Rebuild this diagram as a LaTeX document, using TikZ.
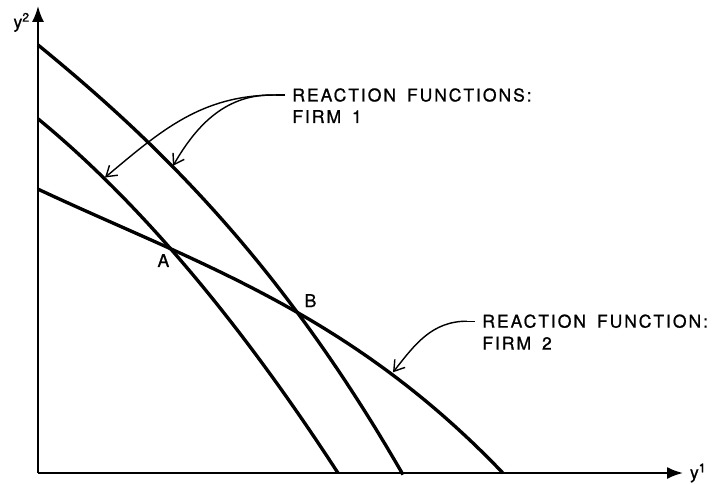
\documentclass[tikz,border=0pt]{standalone}
\usepackage{fontspec}
\newfontfamily\lblfont{TeX Gyre Heros}[LetterSpace=11,WordSpace=1.6,FakeBold=1]
\usetikzlibrary{arrows.meta,positioning,intersections}

\begin{document}
\begin{tikzpicture}[y=1.012cm,
    rcurve/.style={line width=1.9pt},
    axis/.style={line width=1.1pt,-{Latex[length=3.2mm,width=2.4mm]}},
    callout/.style={line width=0.8pt,-{Straight Barb[length=2mm,width=2.6mm]}},
    lbl/.style={font=\lblfont\fontsize{10}{12}\selectfont,inner sep=0pt,anchor=west}]
  \useasboundingbox (-0.76,-0.198) rectangle (13.56,9.348);
  %% Axes
  \draw[axis](0,0)--(12.9,0)
       node[lbl,right=0.12] (yOne) {y\textsuperscript{1}};
  \draw[axis](0,0)--(0,9.23)
       node[lbl,anchor=north east,xshift=-0.14cm,yshift=-0.12cm] (yTwo) {y\textsuperscript{2}};
  %% Reaction functions of firm 1 (inner, outer) and firm 2
  \draw[rcurve,name path=inner,domain=0:6.0,samples=120]
       plot(\x,{7.0-0.8115*\x-0.0592*\x*\x});
  \draw[rcurve,name path=outer,domain=0:7.3,samples=120]
       plot(\x,{8.46-0.8087*\x-0.02121*\x*\x-0.003755*\x*\x*\x});
  \draw[rcurve,name path=firmtwo,domain=0:9.3,samples=120]
       plot(\x,{5.61-0.46404*\x+0.016352*\x*\x-0.0033675*\x*\x*\x});
  %% Equilibria
  \path[name intersections={of=inner and firmtwo,by=ptA}];
  \path[name intersections={of=outer and firmtwo,by=ptB}];
  \node[lbl,anchor=north east] (labA) at ([xshift=-0.02cm,yshift=-0.1cm]ptA) {A};
  \node[lbl,anchor=south west] (labB) at ([xshift=0.14cm,yshift=0.1cm]ptB) {B};
  %% Firm 1 label with two arrows
  \node[lbl] (rfOne) at (5.08,7.47) {REACTION FUNCTIONS:};
  \node[lbl,below=0.43cm of rfOne.west,anchor=west] (firmOne) {FIRM 1};
  \coordinate (stubOne) at ([xshift=-0.14cm]rfOne.west);
  \coordinate (forkOne) at ([xshift=-0.32cm]rfOne.west);
  \coordinate (tipInner) at (1.34,5.84);
  \coordinate (tipOuter) at (2.7,6.07);
  \draw[line width=0.8pt] (stubOne)--(forkOne);
  \draw[callout] (forkOne) to[out=180,in=40] (tipInner);
  \draw[callout] (forkOne) to[out=178,in=60] (tipOuter);
  %% Firm 2 label
  \node[lbl] (rfTwo) at (8.88,3.0) {REACTION FUNCTION:};
  \node[lbl,below=0.44cm of rfTwo.west,anchor=west] (firmTwo) {FIRM 2};
  \coordinate (stubTwo) at ([xshift=-0.14cm]rfTwo.west);
  \coordinate (forkTwo) at ([xshift=-0.3cm]rfTwo.west);
  \coordinate (tipTwo) at (7.1,1.99);
  \draw[line width=0.8pt] (stubTwo)--(forkTwo);
  \draw[callout] (forkTwo) to[out=180,in=52] (tipTwo);
\end{tikzpicture}
\end{document}
